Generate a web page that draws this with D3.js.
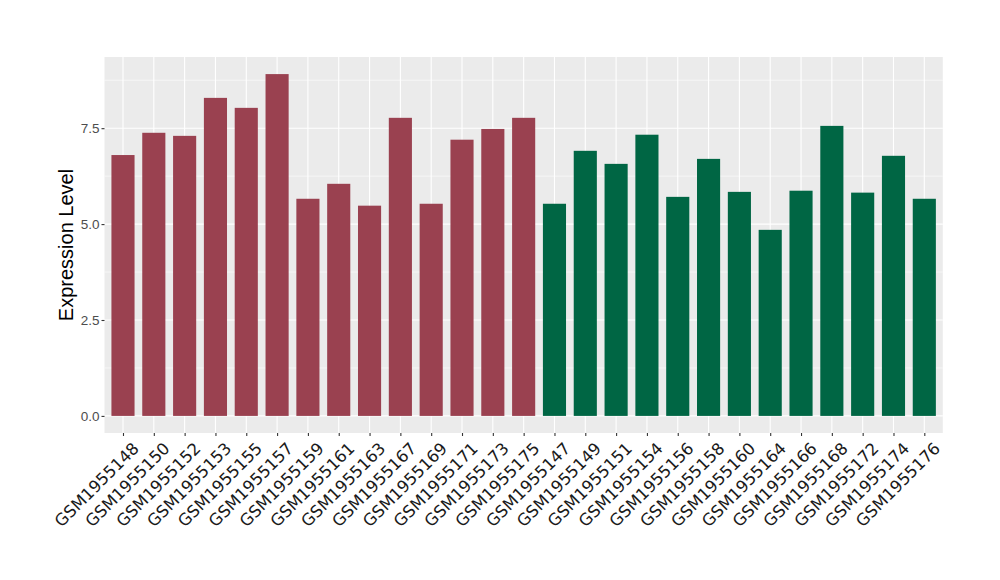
<!DOCTYPE html>
<html>
<head>
<meta charset="utf-8">
<script src="https://cdn.jsdelivr.net/npm/d3@7"></script>
<style>
  body { margin: 0; background: #fff; }
  svg { display: block; }
</style>
</head>
<body>
<svg id="chart" width="1000" height="580"></svg>
<script>
const categories = ["GSM1955148","GSM1955150","GSM1955152","GSM1955153","GSM1955155","GSM1955157","GSM1955159","GSM1955161","GSM1955163","GSM1955167","GSM1955169","GSM1955171","GSM1955173","GSM1955175","GSM1955147","GSM1955149","GSM1955151","GSM1955154","GSM1955156","GSM1955158","GSM1955160","GSM1955164","GSM1955166","GSM1955168","GSM1955172","GSM1955174","GSM1955176"];
const values = [6.80,7.38,7.30,8.29,8.03,8.91,5.66,6.05,5.48,7.77,5.53,7.20,7.48,7.77,5.53,6.91,6.57,7.33,5.71,6.70,5.84,4.85,5.87,7.56,5.82,6.78,5.66];
const groups = ["A","A","A","A","A","A","A","A","A","A","A","A","A","A","B","B","B","B","B","B","B","B","B","B","B","B","B"];
const groupColors = {A: "#9A4150", B: "#006644"};
const yTicks = [0, 2.5, 5.0, 7.5];
const yMinor = [1.25, 3.75, 6.25, 8.75];
const yTitle = "Expression Level";

const svg = d3.select("#chart");
const panel = {left: 104.5, right: 942.8, top: 57, bottom: 433};

const x = d3.scalePoint().domain(categories).range([panel.left, panel.right]).padding(0.6);
const barW = x.step() * 0.75;
const yMax = d3.max(values);
const y = d3.scaleLinear().domain([-yMax * 0.05, yMax * 1.05]).range([panel.bottom, panel.top]);

svg.append("rect").attr("x", panel.left).attr("y", panel.top)
  .attr("width", panel.right - panel.left).attr("height", panel.bottom - panel.top)
  .attr("fill", "#EBEBEB");

const grid = svg.append("g");
grid.selectAll(".minor").data(yMinor).enter().append("line")
  .attr("x1", panel.left).attr("x2", panel.right)
  .attr("y1", d => y(d)).attr("y2", d => y(d))
  .attr("stroke", "#fff").attr("stroke-width", 0.55);
grid.selectAll(".major").data(yTicks).enter().append("line")
  .attr("x1", panel.left).attr("x2", panel.right)
  .attr("y1", d => y(d)).attr("y2", d => y(d))
  .attr("stroke", "#fff").attr("stroke-width", 1.1);
grid.selectAll(".vmajor").data(categories).enter().append("line")
  .attr("x1", d => x(d)).attr("x2", d => x(d))
  .attr("y1", panel.top).attr("y2", panel.bottom)
  .attr("stroke", "#fff").attr("stroke-width", 1.1);

svg.append("g").selectAll("rect").data(values).enter().append("rect")
  .attr("x", (d, i) => x(categories[i]) - barW / 2)
  .attr("width", barW)
  .attr("y", d => y(d))
  .attr("height", d => y(0) - y(d))
  .attr("fill", (d, i) => groupColors[groups[i]]);

// y axis
const yAxis = d3.axisLeft(y).tickValues(yTicks).tickFormat(d3.format(".1f")).tickSize(3).tickPadding(2);
const gy = svg.append("g").attr("transform", `translate(${panel.left},0)`).call(yAxis);
gy.select(".domain").remove();
gy.selectAll(".tick line").attr("stroke", "#333").attr("stroke-width", 1.1);
gy.selectAll(".tick text").attr("fill", "#4D4D4D").style("font-family", "Liberation Sans, Arial, sans-serif").style("font-size", "13.5px");

// x axis
const xAxis = d3.axisBottom(x).tickSize(3).tickPadding(2);
const gx = svg.append("g").attr("transform", `translate(0,${panel.bottom})`).call(xAxis);
gx.select(".domain").remove();
gx.selectAll(".tick line").attr("stroke", "#333").attr("stroke-width", 1.1);
gx.selectAll(".tick text")
  .attr("fill", "#1a1a1a")
  .style("font-family", "DejaVu Sans, sans-serif").style("font-size", "16.5px")
  .attr("text-anchor", "end")
  .attr("dy", null)
  .attr("transform", "translate(8,8) rotate(-45)")
  .attr("y", 0).attr("x", 0)
  .attr("dominant-baseline", "hanging");

svg.append("text")
  .attr("transform", `translate(73,${(panel.top + panel.bottom) / 2}) rotate(-90)`)
  .attr("text-anchor", "middle")
  .style("font-family", "Liberation Sans, Arial, sans-serif").style("font-size", "20px")
  .attr("fill", "#000")
  .text(yTitle);
</script>
</body>
</html>
